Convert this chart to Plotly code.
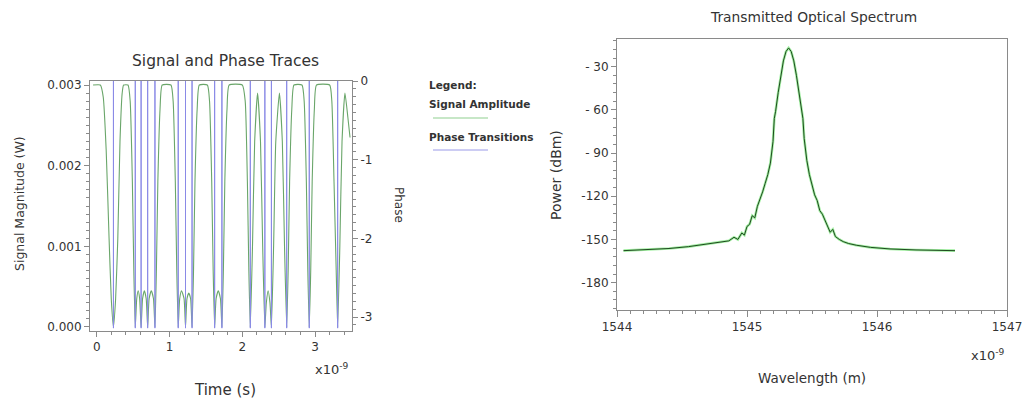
import plotly.graph_objects as go

W, H = 1024, 403

# ---------------- Left chart data (time in units of 1e-9 s) ----------------
signal_time = [
    -0.05, 0.05, 0.09, 0.13, 0.17, 0.20, 0.23, 0.26, 0.29, 0.32, 0.35, 0.37,
    0.43, 0.46, 0.49, 0.51, 0.53,
    0.55, 0.57, 0.59, 0.61, 0.63, 0.655, 0.68, 0.70, 0.72, 0.75, 0.78, 0.80,
    0.82, 0.84, 0.87, 0.90,
    1.02, 1.05, 1.08, 1.10, 1.12,
    1.14, 1.165, 1.20, 1.22, 1.24, 1.265, 1.29, 1.31,
    1.33, 1.35, 1.38, 1.41,
    1.52, 1.55, 1.58, 1.60, 1.62,
    1.64, 1.67, 1.70, 1.72,
    1.74, 1.76, 1.79, 1.82,
    2.00, 2.04, 2.07, 2.09, 2.11,
    2.14, 2.17, 2.21, 2.25, 2.28, 2.31,
    2.33, 2.355, 2.38, 2.40,
    2.43, 2.46, 2.51, 2.55, 2.58, 2.61,
    2.63, 2.65, 2.68, 2.71,
    2.82, 2.85, 2.88, 2.90, 2.92,
    2.94, 2.96, 2.99, 3.02,
    3.20, 3.23, 3.26, 3.29, 3.31,
    3.34, 3.37, 3.41, 3.45, 3.48,
]
signal_amp = [
    0.00300, 0.00300, 0.00285, 0.00220, 0.00110, 0.00035, 0.0, 0.00035, 0.00110, 0.00230, 0.00290, 0.00300,
    0.00300, 0.00280, 0.00180, 0.00070, 0.0,
    0.00035, 0.00045, 0.00035, 0.0, 0.00035, 0.00045, 0.00035, 0.0, 0.00035, 0.00045, 0.00035, 0.0,
    0.00070, 0.00180, 0.00270, 0.00300,
    0.00300, 0.00280, 0.00180, 0.00070, 0.0,
    0.00035, 0.00045, 0.00035, 0.0, 0.00035, 0.00042, 0.00035, 0.0,
    0.00070, 0.00180, 0.00270, 0.00300,
    0.00300, 0.00280, 0.00180, 0.00070, 0.0,
    0.00035, 0.00045, 0.00035, 0.0,
    0.00070, 0.00180, 0.00270, 0.00300,
    0.00300, 0.00280, 0.00180, 0.00070, 0.0,
    0.00100, 0.00230, 0.00290, 0.00230, 0.00100, 0.0,
    0.00030, 0.00045, 0.00030, 0.0,
    0.00100, 0.00230, 0.00290, 0.00230, 0.00100, 0.0,
    0.00070, 0.00180, 0.00270, 0.00300,
    0.00300, 0.00280, 0.00180, 0.00070, 0.0,
    0.00070, 0.00180, 0.00270, 0.00300,
    0.00300, 0.00280, 0.00180, 0.00070, 0.0,
    0.00100, 0.00230, 0.00290, 0.00260, 0.00235,
]

phase_transition_times = [0.23, 0.53, 0.61, 0.70, 0.80, 1.12, 1.22, 1.31,
                          1.62, 1.72, 2.11, 2.31, 2.40, 2.61, 2.92, 3.31]
phase_rest = 0.0
phase_jump = -3.1416

# ---------------- Right chart data (wavelength in units of 1e-9 m) ----------------
wavelength = [
    1544.05, 1544.20, 1544.40, 1544.55, 1544.70, 1544.80, 1544.86, 1544.90, 1544.93,
    1544.96, 1544.98, 1545.00, 1545.02, 1545.04, 1545.06, 1545.08, 1545.10, 1545.12,
    1545.14, 1545.16, 1545.18, 1545.20, 1545.21, 1545.22, 1545.24, 1545.26, 1545.28,
    1545.30, 1545.32, 1545.34, 1545.36, 1545.38, 1545.40, 1545.42, 1545.43, 1545.44,
    1545.46, 1545.48, 1545.50, 1545.52, 1545.54, 1545.56, 1545.58, 1545.60, 1545.62,
    1545.64, 1545.66, 1545.68, 1545.71, 1545.74, 1545.78, 1545.84, 1545.95, 1546.10,
    1546.30, 1546.60,
]
power_dbm = [
    -157.8, -157.3, -156.3, -155.0, -153.3, -152.0, -151.0, -148.5, -150.0,
    -145.5, -147.0, -141.0, -139.5, -133.5, -135.0, -127.0, -122.5, -117.0,
    -111.0, -105.0, -97.0, -82.0, -66.0, -61.0, -48.0, -36.0, -26.0,
    -19.5, -17.0, -19.5, -26.0, -36.0, -48.0, -61.0, -66.0, -80.0,
    -95.0, -105.0, -113.0, -119.0, -123.0, -130.0, -132.5, -137.0, -140.5,
    -145.0, -143.0, -148.0, -150.0, -151.5, -152.8, -154.0, -155.5, -156.6,
    -157.3, -157.8,
]

phase_alias = {"\u22121": "-1", "\u22122": "-2", "\u22123": "-3"}
power_alias = {"\u221230": "- 30", "\u221260": "- 60", "\u221290": "- 90",
               "\u2212120": "-120", "\u2212150": "-150", "\u2212180": "-180"}

# ---------------- Build figure ----------------
FONT = "DejaVu Sans"
TXT = "#333333"
AX = "#8a8a8a"

phase_x, phase_y = [], []
for t in phase_transition_times:
    phase_x += [t, t, t, None]
    phase_y += [phase_rest, phase_jump, phase_rest, None]

fig = go.Figure()
fig.add_trace(go.Scatter(x=phase_x, y=phase_y, mode="lines", xaxis="x", yaxis="y2",
                         line=dict(color="#8a8ae6", width=1), connectgaps=False,
                         showlegend=False, hoverinfo="skip"))
fig.add_trace(go.Scatter(x=signal_time, y=signal_amp, mode="lines", xaxis="x", yaxis="y",
                         line=dict(color="#6aa66a", width=1.1, shape="spline", smoothing=0.5),
                         showlegend=False))
fig.add_trace(go.Scatter(x=wavelength, y=power_dbm, mode="lines", xaxis="x2", yaxis="y3",
                         line=dict(color="#33dd33", width=2.6), opacity=0.45, showlegend=False))
fig.add_trace(go.Scatter(x=wavelength, y=power_dbm, mode="lines", xaxis="x2", yaxis="y3",
                         line=dict(color="#1f4a1f", width=1), showlegend=False))


def px_x(p):
    return p / W


def px_y(p):
    return 1 - p / H


tickfont = dict(family=FONT, size=12, color=TXT)
common = dict(ticks="outside", tickcolor=AX, showline=True, linecolor=AX, showgrid=False,
              zeroline=False, tickfont=tickfont, automargin=False, tickmode="linear")

fig.update_layout(
    width=W, height=H,
    margin=dict(l=0, r=0, t=0, b=0, autoexpand=False),
    paper_bgcolor="white", plot_bgcolor="white",
    font=dict(family=FONT, color=TXT),
    xaxis=dict(domain=[px_x(90), px_x(352)], range=[-0.092, 3.507], anchor="y",
               tick0=0, dtick=1, ticklen=5, mirror=True,
               minor=dict(dtick=0.2, tick0=0, ticks="outside", ticklen=3, tickcolor=AX), **common),
    yaxis=dict(domain=[px_y(331), px_y(81)], range=[-0.00005, 0.00305], anchor="x",
               tick0=0, dtick=0.001, tickformat=".3f", ticklen=5,
               minor=dict(dtick=0.0001, tick0=0, ticks="outside", ticklen=3, tickcolor=AX), **common),
    yaxis2=dict(overlaying="y", side="right", anchor="x", range=[-3.178, 0],
                tick0=0, dtick=1, ticklen=5, labelalias=phase_alias,
                minor=dict(dtick=0.1, tick0=0, ticks="outside", ticklen=3, tickcolor=AX), **common),
    xaxis2=dict(domain=[px_x(617), px_x(1007)], range=[1544, 1547], anchor="y3",
                tick0=1544, dtick=1, ticklen=6, mirror=True,
                minor=dict(dtick=0.1, tick0=1544, ticks="outside", ticklen=3, tickcolor=AX), **common),
    yaxis3=dict(domain=[px_y(310), px_y(39)], range=[-199, -10.8], anchor="x2",
                tick0=-30, dtick=30, ticklen=5, mirror=True, labelalias=power_alias,
                minor=dict(dtick=6, tick0=0, ticks="outside", ticklen=3, tickcolor=AX), **common),
)


def note(text, x, y, size=12, angle=0, bold=False, anchor="center"):
    fig.add_annotation(text=f"<b>{text}</b>" if bold else text,
                       x=px_x(x), y=px_y(y), xref="paper", yref="paper",
                       xanchor=anchor, yanchor="middle", showarrow=False, textangle=angle,
                       font=dict(family=FONT, size=size, color=TXT))


note("Signal and Phase Traces", 225, 61, size=15.5)
note("Time (s)", 225, 390, size=15)
note("Signal Magnitude (W)", 19, 204, size=12.5, angle=-90)
note("Phase", 399, 205, size=12, angle=90)
note("x10<sup>-9</sup>", 332, 369, size=13)

note("Transmitted Optical Spectrum", 813, 17, size=13.8)
note("Power (dBm)", 556, 175, size=14, angle=-90)
note("Wavelength (m)", 812, 378, size=13.5)
note("x10<sup>-9</sup>", 988, 355, size=13)

# legend block
note("Legend:", 427, 85, size=10.5, bold=True, anchor="left")
note("Signal Amplitude", 427, 104, size=10.5, bold=True, anchor="left")
note("Phase Transitions", 427, 137, size=10.5, bold=True, anchor="left")
fig.add_shape(type="line", xref="paper", yref="paper", x0=px_x(433), x1=px_x(488),
              y0=px_y(118), y1=px_y(118), line=dict(color="#8fcf8f", width=1))
fig.add_shape(type="line", xref="paper", yref="paper", x0=px_x(433), x1=px_x(488),
              y0=px_y(150), y1=px_y(150), line=dict(color="#9a9ae8", width=1))

fig.write_html("out.html", config={"displayModeBar": False},
               post_script="document.body.style.margin='0';document.body.style.overflow='hidden';")
